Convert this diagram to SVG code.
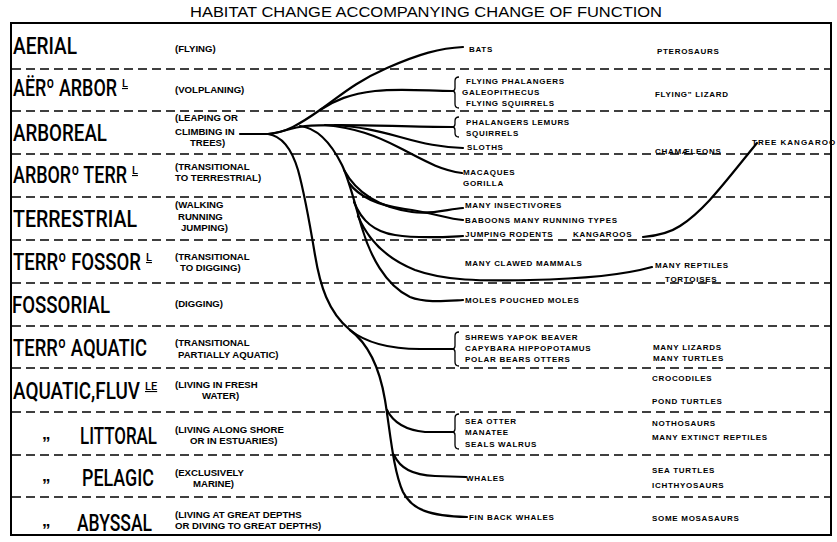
<svg xmlns="http://www.w3.org/2000/svg" width="837" height="542" viewBox="0 0 837 542">
<style>
.ttl{font-family:"Liberation Sans",Arial,sans-serif;font-size:14px}
.lbl{font-family:Roboto,"DejaVu Sans Condensed",sans-serif;font-weight:500;font-size:24px}
.sup{font-family:Roboto,"DejaVu Sans Condensed",sans-serif;font-weight:500;font-size:11px;text-decoration:underline}
.desc{font-family:"Liberation Sans",Arial,sans-serif;font-weight:bold;font-size:9.6px}
.sp{font-family:"Liberation Sans",Arial,sans-serif;font-weight:bold;font-size:8px;letter-spacing:0.7px}
.ditto{font-family:"Liberation Sans",Arial,sans-serif;font-weight:bold;font-size:17px}
.dash{stroke:#000;stroke-width:1.5;stroke-dasharray:9 5;fill:none}
.br{stroke:#000;stroke-width:2.2;fill:none;stroke-linecap:round}
.brace{stroke:#000;stroke-width:1.3;fill:none}
</style>
<rect width="837" height="542" fill="#fff"/>
<text class="ttl" x="190" y="17" textLength="472" lengthAdjust="spacingAndGlyphs">HABITAT CHANGE ACCOMPANYING CHANGE OF FUNCTION</text>
<g id="frame">
<rect x="11" y="23" width="820" height="512" fill="none" stroke="#000" stroke-width="2"/>
<line class="dash" x1="12" y1="69" x2="830" y2="69"/>
<line class="dash" x1="12" y1="111" x2="830" y2="111"/>
<line class="dash" x1="12" y1="154" x2="830" y2="154"/>
<line class="dash" x1="12" y1="197" x2="830" y2="197"/>
<line class="dash" x1="12" y1="240" x2="830" y2="240"/>
<line class="dash" x1="12" y1="283" x2="830" y2="283"/>
<line class="dash" x1="12" y1="326" x2="830" y2="326"/>
<line class="dash" x1="12" y1="368" x2="830" y2="368"/>
<line class="dash" x1="12" y1="412" x2="830" y2="412"/>
<line class="dash" x1="12" y1="455" x2="830" y2="455"/>
<line class="dash" x1="12" y1="497" x2="830" y2="497"/>
</g>
<g id="habitats">
<g id="h-aerial"><text class="lbl" x="13" y="54" textLength="64" lengthAdjust="spacingAndGlyphs">AERIAL</text><text class="desc" x="175" y="52">(FLYING)</text></g>
<g id="h-aeroarb"><text class="lbl" x="13" y="96" textLength="104" lengthAdjust="spacingAndGlyphs">AËRº ARBOR</text><text class="sup" x="122" y="87">L</text><text class="desc" x="175" y="93">(VOLPLANING)</text></g>
<g id="h-arboreal"><text class="lbl" x="13" y="141" textLength="94" lengthAdjust="spacingAndGlyphs">ARBOREAL</text><text class="desc" x="175" y="121">(LEAPING OR</text><text class="desc" x="175" y="135">CLIMBING IN</text><text class="desc" x="190" y="146">TREES)</text></g>
<g id="h-arbterr"><text class="lbl" x="13" y="183" textLength="114" lengthAdjust="spacingAndGlyphs">ARBORº TERR</text><text class="sup" x="132" y="174">L</text><text class="desc" x="175" y="170">(TRANSITIONAL</text><text class="desc" x="175" y="181">TO TERRESTRIAL)</text></g>
<g id="h-terr"><text class="lbl" x="13" y="227" textLength="124" lengthAdjust="spacingAndGlyphs">TERRESTRIAL</text><text class="desc" x="175" y="208">(WALKING</text><text class="desc" x="178" y="220">RUNNING</text><text class="desc" x="181" y="231">JUMPING)</text></g>
<g id="h-terrfoss"><text class="lbl" x="13" y="270" textLength="128" lengthAdjust="spacingAndGlyphs">TERRº FOSSOR</text><text class="sup" x="146" y="261">L</text><text class="desc" x="175" y="260">(TRANSITIONAL</text><text class="desc" x="180" y="271">TO DIGGING)</text></g>
<g id="h-foss"><text class="lbl" x="12" y="313" textLength="98" lengthAdjust="spacingAndGlyphs">FOSSORIAL</text><text class="desc" x="175" y="307">(DIGGING)</text></g>
<g id="h-terraq"><text class="lbl" x="13" y="356" textLength="134" lengthAdjust="spacingAndGlyphs">TERRº AQUATIC</text><text class="desc" x="175" y="346">(TRANSITIONAL</text><text class="desc" x="178" y="358">PARTIALLY AQUATIC)</text></g>
<g id="h-fluv"><text class="lbl" x="13" y="399" textLength="127" lengthAdjust="spacingAndGlyphs">AQUATIC,FLUV</text><text class="sup" x="145" y="390">LE</text><text class="desc" x="175" y="388">(LIVING IN FRESH</text><text class="desc" x="202" y="399">WATER)</text></g>
<g id="h-litt"><text class="ditto" x="42" y="449">”</text><text class="lbl" x="80" y="444" textLength="77" lengthAdjust="spacingAndGlyphs">LITTORAL</text><text class="desc" x="175" y="433">(LIVING ALONG SHORE</text><text class="desc" x="190" y="444">OR IN ESTUARIES)</text></g>
<g id="h-pel"><text class="ditto" x="42" y="491">”</text><text class="lbl" x="82" y="486" textLength="72" lengthAdjust="spacingAndGlyphs">PELAGIC</text><text class="desc" x="175" y="476">(EXCLUSIVELY</text><text class="desc" x="193" y="487">MARINE)</text></g>
<g id="h-aby"><text class="ditto" x="42" y="536">”</text><text class="lbl" x="77" y="531" textLength="75" lengthAdjust="spacingAndGlyphs">ABYSSAL</text><text class="desc" x="175" y="518">(LIVING AT GREAT DEPTHS</text><text class="desc" x="175" y="529">OR DIVING TO GREAT DEPTHS)</text></g>
</g>
<g id="connectors">
<path class="br" d="M240,134 L268,134"/>
<path class="br" d="M268,134 C285,133 300,124 320,110 C340,96 355,82 387,68 C419,54 440,48 463,47"/>
<path class="br" d="M320,110 C335,100 350,94 375,91 C400,88 430,91 452,91"/>
<path class="br" d="M268,134 C280,133 290,128 305,126 C340,123 400,127 452,127"/>
<path class="br" d="M335,125 C360,127 375,130 400,137 C425,144 440,147 463,148"/>
<path class="br" d="M325,125 C355,128 375,135 400,148 C425,161 440,170 462,173"/>
<path class="br" d="M300,126 C318,128 332,145 342,165 C350,182 355,205 362,228 C370,255 385,285 410,297 C425,303 445,301 463,300"/>
<path class="br" d="M344,170 C356,192 378,207 412,212 C432,215 448,209 463,208"/>
<path class="br" d="M349,183 C360,198 382,206 405,209 C430,212 448,219 463,220"/>
<path class="br" d="M354,202 C362,222 375,232 395,235 C420,239 445,237 463,236"/>
<path class="br" d="M358,216 C368,240 385,258 415,270 C445,281 480,281 530,280 C580,279 620,276 652,267"/>
<path class="br" d="M268,134 C282,136 292,150 298,170 C305,195 310,225 315,255 C320,285 328,312 350,330"/>
<path class="br" d="M350,330 C365,342 390,349 420,349 L452,349"/>
<path class="br" d="M350,330 C370,345 380,370 385,400 C390,430 393,470 403,492 C412,510 430,516 467,517"/>
<path class="br" d="M387,410 C393,422 405,430 425,432 L452,432"/>
<path class="br" d="M394,455 C400,468 412,475 435,476 L466,477"/>
<path class="br" d="M643,237 C655,236 668,234 680,226 C705,210 725,182 757,143"/>
<path class="brace" d="M459,77 Q455,77 455,81 L455,88 Q455,91 452,91 Q455,91 455,94 L455,104 Q455,108 459,108"/>
<path class="brace" d="M459,117 Q455,117 455,121 L455,124 Q455,127 452,127 Q455,127 455,130 L455,133 Q455,137 459,137"/>
<path class="brace" d="M459,332 Q455,332 455,336 L455,346 Q455,349 452,349 Q455,349 455,352 L455,362 Q455,366 459,366"/>
<path class="brace" d="M459,414 Q455,414 455,418 L455,429 Q455,432 452,432 Q455,432 455,435 L455,445 Q455,449 459,449"/>
</g>
<g id="mammals">
<g id="m-bats"><text class="sp" x="469" y="52">BATS</text></g>
<g id="m-volp"><text class="sp" x="466" y="84">FLYING PHALANGERS</text><text class="sp" x="462" y="95">GALEOPITHECUS</text><text class="sp" x="466" y="106">FLYING SQUIRRELS</text></g>
<g id="m-arb"><text class="sp" x="466" y="125">PHALANGERS LEMURS</text><text class="sp" x="466" y="136">SQUIRRELS</text></g>
<g id="m-sloths"><text class="sp" x="467" y="150">SLOTHS</text></g>
<g id="m-mac"><text class="sp" x="463" y="175">MACAQUES</text><text class="sp" x="463" y="186">GORILLA</text></g>
<g id="m-ins"><text class="sp" x="465" y="208">MANY INSECTIVORES</text></g>
<g id="m-bab"><text class="sp" x="465" y="223">BABOONS MANY RUNNING TYPES</text></g>
<g id="m-jump"><text class="sp" x="465" y="237">JUMPING RODENTS<tspan x="573">KANGAROOS</tspan></text></g>
<g id="m-claw"><text class="sp" x="465" y="266">MANY CLAWED MAMMALS</text></g>
<g id="m-moles"><text class="sp" x="465" y="303">MOLES POUCHED MOLES</text></g>
<g id="m-terraq"><text class="sp" x="465" y="340">SHREWS YAPOK BEAVER</text><text class="sp" x="465" y="351">CAPYBARA HIPPOPOTAMUS</text><text class="sp" x="465" y="362">POLAR BEARS OTTERS</text></g>
<g id="m-litt"><text class="sp" x="465" y="424">SEA OTTER</text><text class="sp" x="465" y="435">MANATEE</text><text class="sp" x="465" y="447">SEALS WALRUS</text></g>
<g id="m-whales"><text class="sp" x="466" y="481">WHALES</text></g>
<g id="m-fin"><text class="sp" x="469" y="520">FIN BACK WHALES</text></g>
</g>
<g id="reptiles">
<g id="r-ptero"><text class="sp" x="657" y="54">PTEROSAURS</text></g>
<g id="r-flyliz"><text class="sp" x="655" y="97">FLYING" LIZARD</text></g>
<g id="r-cham"><text class="sp" x="655" y="154">CHAMÆLEONS</text></g>
<g id="r-treek"><text class="sp" x="752" y="145" style="letter-spacing:1px">TREE KANGAROO</text></g>
<g id="r-rept"><text class="sp" x="655" y="268">MANY REPTILES</text><text class="sp" x="665" y="282">TORTOISES</text></g>
<g id="r-liz"><text class="sp" x="653" y="350">MANY LIZARDS</text><text class="sp" x="653" y="361">MANY TURTLES</text></g>
<g id="r-croc"><text class="sp" x="652" y="381">CROCODILES</text><text class="sp" x="652" y="404">POND TURTLES</text></g>
<g id="r-notho"><text class="sp" x="652" y="426">NOTHOSAURS</text><text class="sp" x="652" y="440">MANY EXTINCT REPTILES</text></g>
<g id="r-sea"><text class="sp" x="652" y="473">SEA TURTLES</text><text class="sp" x="652" y="488">ICHTHYOSAURS</text></g>
<g id="r-mosa"><text class="sp" x="652" y="521">SOME MOSASAURS</text></g>
</g>
</svg>
